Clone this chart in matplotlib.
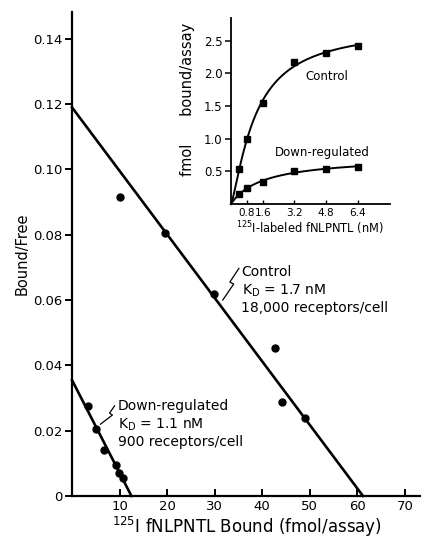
import numpy as np
import matplotlib
matplotlib.use("Agg")
import matplotlib.pyplot as plt


plt.rcParams["font.family"] = "DejaVu Sans"
plt.rcParams["mathtext.default"] = "regular"

# Scatchard plot (main panel)
control_bound = [10.2, 19.6, 29.9, 42.6, 44.2, 48.9]
control_bf = [0.0915, 0.0805, 0.0618, 0.0454, 0.0289, 0.0240]
down_bound = [3.3, 5.1, 6.8, 9.3, 9.9, 10.7]
down_bf = [0.0277, 0.0205, 0.0140, 0.0094, 0.0070, 0.0054]

# fitted Scatchard lines: (y intercept, x intercept)
control_fit = (0.119, 61.2)
down_fit = (0.0355, 12.5)

# saturation curve (inset)
conc = [0.4, 0.8, 1.6, 3.2, 4.8, 6.4]
control_sat = [0.53, 0.99, 1.54, 2.18, 2.31, 2.42]
down_sat = [0.15, 0.24, 0.34, 0.50, 0.54, 0.57]

main_yticks = [0, 0.02, 0.04, 0.06, 0.08, 0.10, 0.12, 0.14]
main_yticklabels = ["0", "0.02", "0.04", "0.06", "0.08", "0.10", "0.12", "0.14"]
main_xticks = [10, 20, 30, 40, 50, 60, 70]
inset_xticks = [0.8, 1.6, 3.2, 4.8, 6.4]
inset_yticks = [0.5, 1.0, 1.5, 2.0, 2.5]


def fit_binding(x, y):
    # least squares fit of y = Bmax * x^n / (K^n + x^n), simple grid search
    x = np.asarray(x)
    y = np.asarray(y)
    best = None
    for k in np.linspace(0.2, 4.0, 191):
        for n in np.linspace(0.8, 2.0, 61):
            f = x**n / (k**n + x**n)
            bmax = np.sum(y * f) / np.sum(f * f)
            err = np.sum((bmax * f - y) ** 2)
            if best is None or err < best[0]:
                best = (err, bmax, k, n)
    return best[1:]


W, H = 421, 541
fig = plt.figure(figsize=(W / 100, H / 100), dpi=100)

# main axes
ax = fig.add_axes([72 / W, 1 - 496 / H, (W - 72) / W, (496 - 12) / H])
ax.set_xlim(0, 73.4)
ax.set_ylim(0, 0.1482)
for s in ("top", "right"):
    ax.spines[s].set_visible(False)
for s in ("left", "bottom"):
    ax.spines[s].set_linewidth(1.6)
ax.set_yticks(main_yticks)
ax.set_yticklabels(main_yticklabels)
ax.set_xticks(main_xticks)
ax.tick_params(axis="y", direction="out", length=5, width=1.4, labelsize=9.5, pad=2)
ax.tick_params(axis="x", direction="in", length=5, width=1.4, labelsize=9.5, pad=3)
ax.set_xlabel("$^{125}$I fNLPNTL Bound (fmol/assay)", fontsize=12, labelpad=1)
ax.set_ylabel("Bound/Free", fontsize=10.5, labelpad=2)

ax.plot([0, control_fit[1]], [control_fit[0], 0], color="black", lw=1.9, clip_on=False)
ax.plot([0, down_fit[1]], [down_fit[0], 0], color="black", lw=1.9, clip_on=False)
ax.plot(control_bound, control_bf, "o", color="black", ms=5)
ax.plot(down_bound, down_bf, "o", color="black", ms=5)

# annotations with squiggle leaders
ax.plot([35.1, 33.2, 34.0, 31.7], [0.0697, 0.0655, 0.0649, 0.0600], color="black", lw=0.9)
ax.text(35.6, 0.0686, "Control", fontsize=10, va="center")
ax.text(35.7, 0.0628, "K$_D$ = 1.7 nM", fontsize=10, va="center")
ax.text(35.5, 0.0577, "18,000 receptors/cell", fontsize=10, va="center")

ax.plot([8.95, 7.9, 8.5, 6.0], [0.0276, 0.0254, 0.0248, 0.0220], color="black", lw=0.9)
ax.text(9.6, 0.0275, "Down-regulated", fontsize=10, va="center")
ax.text(9.6, 0.0217, "K$_D$ = 1.1 nM", fontsize=10, va="center")
ax.text(9.6, 0.0166, "900 receptors/cell", fontsize=10, va="center")

# inset
ins = fig.add_axes([231 / W, 1 - 204 / H, (390 - 231) / W, (204 - 18) / H])
ins.set_xlim(0, 8.03)
ins.set_ylim(0, 2.85)
for s in ("top", "right"):
    ins.spines[s].set_visible(False)
for s in ("left", "bottom"):
    ins.spines[s].set_linewidth(1.3)
ins.set_xticks(inset_xticks)
ins.set_xticklabels([f"{v:.1f}" for v in inset_xticks])
ins.set_yticks(inset_yticks)
ins.tick_params(axis="y", direction="out", length=4, width=1.1, labelsize=8.5, pad=2)
ins.tick_params(axis="x", direction="in", length=3, width=1.0, labelsize=7.5, pad=3)
ins.set_xlabel("$^{125}$I-labeled fNLPNTL (nM)", fontsize=8.3, labelpad=1)
ins.set_ylabel("fmol      bound/assay", fontsize=10.5)
ins.yaxis.set_label_coords(-0.226, 0.56)

xs = np.linspace(0, max(conc), 200)
for yvals in (control_sat, down_sat):
    bmax, k, n = fit_binding(conc, yvals)
    ins.plot(xs, bmax * xs**n / (k**n + xs**n), color="black", lw=1.4, clip_on=False)
    ins.plot(conc, yvals, "s", color="black", ms=4)

ins.text(3.75, 1.955, "Control", fontsize=8.5, va="center")
ins.text(2.22, 0.795, "Down-regulated", fontsize=8.5, va="center")

fig.savefig("out.png", dpi=100)
